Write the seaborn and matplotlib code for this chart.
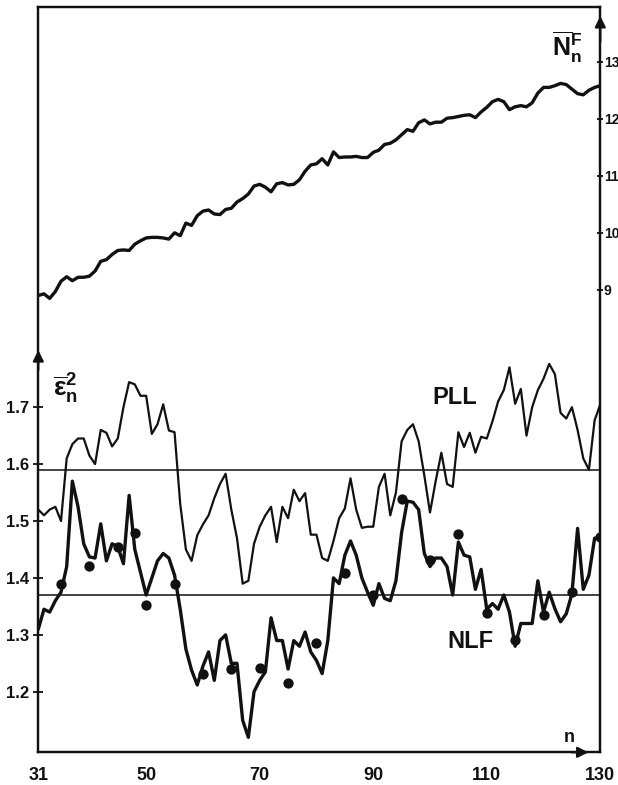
import numpy as np
import pandas as pd
import matplotlib
matplotlib.use("Agg")
import matplotlib.pyplot as plt
import seaborn as sns

# ---------------- data ----------------
n_values = list(range(31, 131))

nf_values = [
    8.90, 8.93, 8.85, 8.97, 9.15, 9.23, 9.16, 9.22, 9.22, 9.24,   # 31-40
    9.33, 9.50, 9.53, 9.62, 9.69, 9.70, 9.69, 9.80, 9.86, 9.91,   # 41-50
    9.92, 9.92, 9.91, 9.89, 10.00, 9.95, 10.17, 10.13, 10.30, 10.38,  # 51-60
    10.40, 10.33, 10.32, 10.41, 10.43, 10.54, 10.60, 10.68, 10.82, 10.85,  # 61-70
    10.80, 10.72, 10.86, 10.88, 10.84, 10.85, 10.93, 11.08, 11.19, 11.21,  # 71-80
    11.30, 11.19, 11.42, 11.32, 11.33, 11.33, 11.34, 11.32, 11.32, 11.41,  # 81-90
    11.45, 11.55, 11.57, 11.63, 11.72, 11.81, 11.78, 11.93, 11.98, 11.91,  # 91-100
    11.94, 11.94, 12.01, 12.02, 12.04, 12.06, 12.07, 12.02, 12.12, 12.20,  # 101-110
    12.30, 12.34, 12.30, 12.16, 12.21, 12.23, 12.21, 12.28, 12.45, 12.55,  # 111-120
    12.55, 12.58, 12.62, 12.60, 12.52, 12.44, 12.42, 12.50, 12.55, 12.58,  # 121-130
]

pll_values = [
    1.520, 1.510, 1.520, 1.525, 1.500, 1.610, 1.635, 1.645, 1.645, 1.615,  # 31-40
    1.600, 1.660, 1.655, 1.631, 1.645, 1.700, 1.744, 1.740, 1.720, 1.720,  # 41-50
    1.653, 1.670, 1.705, 1.659, 1.656, 1.530, 1.450, 1.430, 1.475, 1.494,  # 51-60
    1.510, 1.540, 1.565, 1.583, 1.520, 1.470, 1.390, 1.395, 1.460, 1.490,  # 61-70
    1.510, 1.525, 1.463, 1.525, 1.505, 1.555, 1.535, 1.549, 1.476, 1.476,  # 71-80
    1.435, 1.430, 1.465, 1.505, 1.522, 1.575, 1.520, 1.488, 1.490, 1.490,  # 81-90
    1.560, 1.583, 1.510, 1.550, 1.640, 1.660, 1.670, 1.640, 1.580, 1.515,  # 91-100
    1.570, 1.620, 1.565, 1.560, 1.656, 1.630, 1.655, 1.620, 1.648, 1.645,  # 101-110
    1.675, 1.710, 1.730, 1.770, 1.706, 1.732, 1.650, 1.700, 1.730, 1.750,  # 111-120
    1.776, 1.758, 1.690, 1.680, 1.700, 1.660, 1.610, 1.590, 1.677, 1.705,  # 121-130
]

nlf_values = [
    1.310, 1.345, 1.340, 1.360, 1.375, 1.420, 1.570, 1.525, 1.460, 1.437,  # 31-40
    1.435, 1.495, 1.430, 1.460, 1.455, 1.425, 1.545, 1.450, 1.410, 1.370,  # 41-50
    1.400, 1.430, 1.443, 1.435, 1.405, 1.345, 1.275, 1.238, 1.212, 1.245,  # 51-60
    1.270, 1.220, 1.290, 1.300, 1.250, 1.250, 1.150, 1.120, 1.200, 1.220,  # 61-70
    1.235, 1.330, 1.290, 1.290, 1.240, 1.290, 1.280, 1.305, 1.270, 1.255,  # 71-80
    1.232, 1.290, 1.400, 1.390, 1.440, 1.465, 1.440, 1.400, 1.375, 1.352,  # 81-90
    1.390, 1.364, 1.360, 1.395, 1.480, 1.535, 1.533, 1.520, 1.443, 1.420,  # 91-100
    1.435, 1.435, 1.420, 1.370, 1.463, 1.440, 1.437, 1.380, 1.415, 1.345,  # 101-110
    1.355, 1.345, 1.370, 1.340, 1.280, 1.320, 1.320, 1.320, 1.395, 1.340,  # 111-120
    1.375, 1.346, 1.323, 1.337, 1.372, 1.487, 1.380, 1.405, 1.470, 1.470,  # 121-130
]

dot_n = [35, 40, 45, 48, 50, 55, 60, 65, 70, 75, 80, 85, 90, 95, 100,
         105, 110, 115, 120, 125, 130]
dot_values = [1.389, 1.421, 1.455, 1.479, 1.352, 1.390, 1.232, 1.240, 1.241,
              1.215, 1.285, 1.408, 1.370, 1.539, 1.431, 1.478, 1.339, 1.291,
              1.335, 1.375, 1.472]

ref_levels = [1.59, 1.37]

left_ticks = [1.2, 1.3, 1.4, 1.5, 1.6, 1.7]
right_ticks = [9, 10, 11, 12, 13]
x_ticks = [31, 40, 50, 60, 70, 80, 90, 100, 110, 120, 130]
x_tick_labels = ["31", "", "50", "", "70", "", "90", "", "110", "", "130"]

# ---------------- style ----------------
sns.set_style("white")
plt.rcParams["font.family"] = ["Liberation Sans", "DejaVu Sans"]
plt.rcParams["font.weight"] = "bold"
plt.rcParams["mathtext.fontset"] = "custom"
plt.rcParams["mathtext.rm"] = "Liberation Sans:bold"
plt.rcParams["mathtext.bf"] = "Liberation Sans:bold"
plt.rcParams["mathtext.it"] = "Liberation Sans:bold"
plt.rcParams["mathtext.sf"] = "Liberation Sans:bold"

W, H = 618, 785
fig = plt.figure(figsize=(W / 100, H / 100), dpi=100)
left_px, right_px, bottom_px, top_px = 38.3, 600.3, 752.3, 7.0
ax = fig.add_axes([left_px / W, 1 - bottom_px / H,
                   (right_px - left_px) / W, (bottom_px - top_px) / H])
ax2 = ax.twinx()

df = pd.DataFrame({"n": n_values, "NF": nf_values,
                   "PLL": pll_values, "NLF": nlf_values})
dots = pd.DataFrame({"n": dot_n, "e": dot_values})

ink = "#111111"

for lvl in ref_levels:
    ax.axhline(lvl, color=ink, lw=1.1, zorder=1)

sns.lineplot(data=df, x="n", y="PLL", ax=ax, color=ink, lw=1.6, zorder=3)
sns.lineplot(data=df, x="n", y="NLF", ax=ax, color=ink, lw=2.4, zorder=3)
sns.scatterplot(data=dots, x="n", y="e", ax=ax, color=ink, s=55,
                edgecolor=ink, linewidth=0, zorder=4)
sns.lineplot(data=df, x="n", y="NF", ax=ax2, color=ink, lw=2.4, zorder=3)

ax.set_xlim(31, 130)
ax.set_ylim(1.0937, 2.403)
ax2.set_ylim(0.89, 13.96)

ax.set_xlabel("")
ax.set_ylabel("")
ax2.set_ylabel("")

ax.set_xticks(x_ticks)
ax.set_xticklabels(x_tick_labels)
ax.set_yticks(left_ticks)
ax.set_yticklabels([f"{v:.1f}" for v in left_ticks])
ax2.set_yticks(right_ticks)
ax2.set_yticklabels([str(v) for v in right_ticks])

ax.tick_params(axis="x", direction="inout", length=7, width=1.3,
               labelsize=13, pad=7, colors=ink)
ax.tick_params(axis="y", direction="inout", length=7, width=1.3,
               labelsize=12, pad=3, colors=ink)
ax2.tick_params(axis="y", direction="inout", length=5, width=1.3,
                labelsize=10, pad=0, colors=ink)
for lab in ax.get_xticklabels() + ax.get_yticklabels() + ax2.get_yticklabels():
    lab.set_fontweight("bold")

for a in (ax, ax2):
    for sp in a.spines.values():
        sp.set_color(ink)
        sp.set_linewidth(1.6)
        sp.set_visible(True)
ax.grid(False)
ax2.grid(False)

# arrows on the axes
ax.annotate("", xy=(128.4, 1.0937), xytext=(124.5, 1.0937),
            xycoords="data",
            arrowprops=dict(arrowstyle="-|>", color=ink, lw=1.6,
                            mutation_scale=16),
            annotation_clip=False, zorder=5)
ax.annotate("", xy=(31, 1.805), xytext=(31, 1.76),
            arrowprops=dict(arrowstyle="-|>", color=ink, lw=1.6,
                            mutation_scale=16),
            annotation_clip=False, zorder=5)
ax2.annotate("", xy=(130, 13.85), xytext=(130, 13.3),
             arrowprops=dict(arrowstyle="-|>", color=ink, lw=1.6,
                             mutation_scale=16),
             annotation_clip=False, zorder=5)

# labels
fig.text(455 / W, 1 - 397 / H, "PLL", ha="center", va="center",
         fontsize=17, fontweight="bold", color=ink)
fig.text(470 / W, 1 - 641 / H, "NLF", ha="center", va="center",
         fontsize=17, fontweight="bold", color=ink)
fig.text(569 / W, 1 - 738 / H, "n", ha="center", va="center",
         fontsize=13, fontweight="bold", color=ink)
fig.text(552 / W, 1 - 56 / H, r"$\overline{\mathbf{N}}_{\mathbf{n}}^{\mathbf{F}}$",
         ha="left", va="baseline", fontsize=18, color=ink)
fig.text(53 / W, 1 - 397 / H, r"$\overline{\epsilon}_{\mathbf{n}}^{\mathbf{2}}$",
         ha="left", va="baseline", fontsize=19, color=ink)

fig.savefig("out.png", dpi=100, facecolor="white")
